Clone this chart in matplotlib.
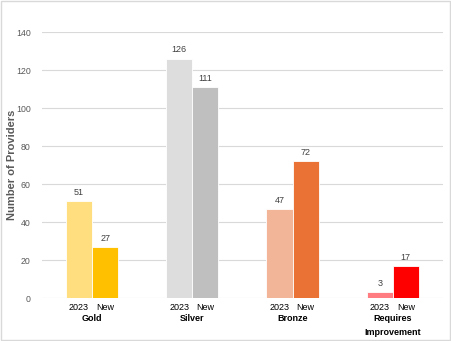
import matplotlib
matplotlib.use("Agg")
import matplotlib.pyplot as plt
import matplotlib.transforms as mtransforms
import numpy as np

plt.rcParams['font.family'] = ['Liberation Sans', 'DejaVu Sans']

categories = ["Gold", "Silver", "Bronze", "Requires\nImprovement"]
series_names = ["2023", "New"]
vals_2023 = [51, 126, 47, 3]
vals_new = [27, 111, 72, 17]
colors_2023 = ["#FFDE80", "#DDDDDD", "#F2B597", "#FF7C80"]
colors_new = ["#FFC000", "#BFBFBF", "#E97234", "#FF0000"]

fig = plt.figure(figsize=(4.51, 3.41), dpi=100)
ax = fig.add_axes([0.093, 0.126, 0.889, 0.780])

x = np.arange(len(categories))
w = 0.26
b1 = ax.bar(x - w / 2, vals_2023, w, color=colors_2023, edgecolor="white", linewidth=0.6, zorder=3)
b2 = ax.bar(x + w / 2, vals_new, w, color=colors_new, edgecolor="white", linewidth=0.6, zorder=3)

for bars in (b1, b2):
    for r in bars:
        ax.annotate(f"{int(r.get_height())}", (r.get_x() + r.get_width() / 2, r.get_height()),
                    xytext=(0, 3), textcoords="offset points", ha="center", va="bottom",
                    fontsize=6.5, color="#404040")

ax.set_xlim(-0.5, 3.5)
ax.set_ylim(0, 140)
ax.set_yticks(range(0, 141, 20))
ax.set_xticks([])
ax.tick_params(axis="y", length=0, labelsize=6.3, labelcolor="#595959", pad=8)
ax.grid(axis="y", color="#D9D9D9", linewidth=0.8, zorder=0)
for s in ax.spines.values():
    s.set_visible(False)

trans = mtransforms.blended_transform_factory(ax.transData, ax.transAxes)
for i, cat in enumerate(categories):
    ax.text(i - w / 2, -0.02, series_names[0], transform=trans, ha="center", va="top",
            fontsize=6.5, color="#000000")
    ax.text(i + w / 2, -0.02, series_names[1], transform=trans, ha="center", va="top",
            fontsize=6.5, color="#000000")
    ax.text(i, -0.06, cat, transform=trans, ha="center", va="top", fontsize=6.5,
            fontweight="bold", linespacing=1.7)

fig.text(0.026, 0.516, "Number of Providers", rotation=90, ha="center", va="center",
         fontsize=8, color="#595959", fontweight="bold")

fig.patches.append(plt.Rectangle((0.002, 0.003), 0.995, 0.994, transform=fig.transFigure,
                                 fill=False, edgecolor="#D9D9D9", linewidth=1))
fig.savefig("out.png", dpi=100)
